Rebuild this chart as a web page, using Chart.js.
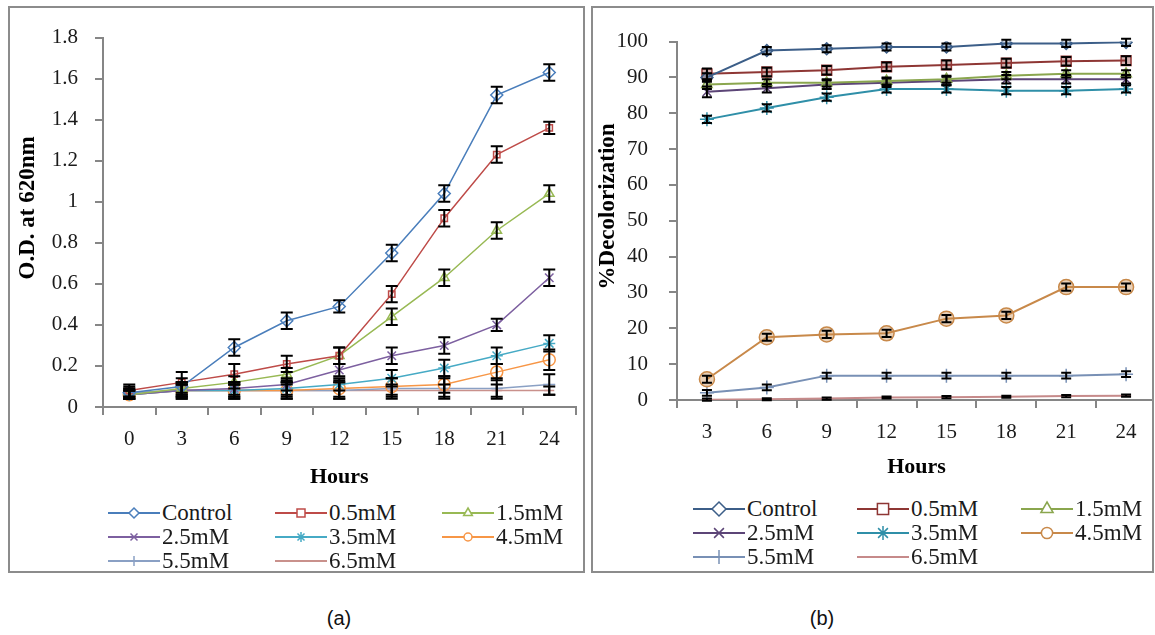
<!DOCTYPE html>
<html>
<head>
<meta charset="utf-8">
<script src="https://cdn.jsdelivr.net/npm/chart.js@4.4.1/dist/chart.umd.min.js"></script>
<style>
html, body { margin: 0; padding: 0; background: #fff; overflow: hidden; width: 1155px; height: 635px; }
.panel { position: absolute; top: 6px; height: 563px; border: 2px solid #8c8c8c; overflow: hidden; background: #fff; }
#panelA { left: 8px; width: 573px; }
#panelB { left: 591px; width: 559px; }
.panel > canvas { position: absolute; left: 0; top: 0; }
.legend { position: absolute; display: grid; font-family: 'Liberation Serif', 'Times New Roman', serif; font-size: 23px; line-height: 24px; color: #1a1a1a; }
.legend .item { display: flex; align-items: center; white-space: nowrap; height: 24px; }
.legend .item canvas { margin-right: 2px; }
#legendA { left: 98px; top: 493px; grid-template-columns: 167px 167px 167px; }
#legendB { left: 100px; top: 489px; grid-template-columns: 164px 164px 164px; }
.caption { position: absolute; top: 607px; font-family: 'Liberation Sans', Arial, sans-serif; font-size: 20px; color: #111; transform: translateX(-50%); }
</style>
</head>
<body>
<div class="panel" id="panelA">
    <canvas id="chartA" width="573" height="483" style="width:573px;height:483px"></canvas>
    <div class="legend" id="legendA"></div>
</div>
<div class="panel" id="panelB">
    <canvas id="chartB" width="572" height="483" style="width:572px;height:483px"></canvas>
    <div class="legend" id="legendB"></div>
</div>
<div class="caption" style="left:339px">(a)</div>
<div class="caption" style="left:822px">(b)</div>

<script>
// ---- data: panel (a) growth, O.D. at 620nm ----
const hoursA = ['0', '3', '6', '9', '12', '15', '18', '21', '24'];
const yTicksA = [0, 0.2, 0.4, 0.6, 0.8, 1, 1.2, 1.4, 1.6, 1.8];

const controlA = [0.07, 0.10, 0.29, 0.42, 0.49, 0.75, 1.04, 1.52, 1.63];
const mM05A    = [0.08, 0.12, 0.16, 0.21, 0.25, 0.55, 0.92, 1.23, 1.36];
const mM15A    = [0.06, 0.09, 0.12, 0.16, 0.25, 0.44, 0.63, 0.86, 1.04];
const mM25A    = [0.06, 0.08, 0.09, 0.11, 0.18, 0.25, 0.30, 0.40, 0.63];
const mM35A    = [0.06, 0.08, 0.08, 0.09, 0.11, 0.14, 0.19, 0.25, 0.31];
const mM45A    = [0.06, 0.08, 0.08, 0.08, 0.09, 0.10, 0.11, 0.17, 0.23];
const mM55A    = [0.07, 0.08, 0.08, 0.08, 0.08, 0.09, 0.09, 0.09, 0.11];
const mM65A    = [0.07, 0.08, 0.08, 0.08, 0.08, 0.08, 0.08, 0.08, 0.08];

const errControlA = [0.03, 0.04, 0.04, 0.04, 0.03, 0.04, 0.04, 0.04, 0.04];
const err05A      = [0.03, 0.05, 0.05, 0.04, 0.04, 0.04, 0.04, 0.04, 0.03];
const err15A      = [0.02, 0.03, 0.03, 0.03, 0.04, 0.04, 0.04, 0.04, 0.04];
const err25A      = [0.02, 0.03, 0.03, 0.03, 0.03, 0.04, 0.04, 0.03, 0.04];
const err35A      = [0.02, 0.03, 0.03, 0.03, 0.03, 0.04, 0.04, 0.04, 0.04];
const err45A      = [0.02, 0.03, 0.03, 0.03, 0.04, 0.04, 0.04, 0.04, 0.05];
const err55A      = [0.02, 0.04, 0.04, 0.04, 0.04, 0.05, 0.05, 0.05, 0.05];
const err65A      = [0.02, 0.04, 0.04, 0.04, 0.04, 0.03, 0.03, 0.03, 0.02];

// ---- data: panel (b) % decolorization ----
const hoursB = ['3', '6', '9', '12', '15', '18', '21', '24'];
const yTicksB = [0, 10, 20, 30, 40, 50, 60, 70, 80, 90, 100];

const controlB = [90, 97.5, 98, 98.5, 98.5, 99.5, 99.5, 99.8];
const mM05B    = [91, 91.5, 92, 93, 93.5, 94, 94.5, 94.7];
const mM15B    = [88, 88.5, 88.5, 89, 89.5, 90.5, 91, 91];
const mM25B    = [86, 87, 88, 88.5, 89, 89.5, 89.5, 89.5];
const mM35B    = [78.3, 81.5, 84.5, 86.8, 86.8, 86.3, 86.3, 86.8];
const mM45B    = [5.8, 17.5, 18.3, 18.6, 22.7, 23.6, 31.5, 31.5];
const mM55B    = [2, 3.5, 6.8, 6.8, 6.8, 6.8, 6.8, 7.2];
const mM65B    = [0.1, 0.2, 0.4, 0.7, 0.8, 0.9, 1.1, 1.2];

const errControlB = [1.2, 1, 1, 1, 1, 1, 1, 1];
const err05B      = [1.5, 1.2, 1.2, 1.2, 1.2, 1.2, 1.2, 1.2];
const err15B      = [1.2, 1, 1, 1, 1, 1, 1, 1];
const err25B      = [1.5, 1.2, 1.2, 1.2, 1.2, 1.2, 1.2, 1.2];
const err35B      = [1, 1, 1, 1, 1, 1, 1, 1];
const err45B      = [1, 1, 1, 1, 1, 1, 1, 1];
const err55B      = [0.8, 0.8, 0.8, 0.8, 0.8, 0.8, 0.8, 0.8];
const err65B      = [0.3, 0.3, 0.3, 0.3, 0.3, 0.3, 0.3, 0.3];

const seriesNames = ['Control', '0.5mM', '1.5mM', '2.5mM', '3.5mM', '4.5mM', '5.5mM', '6.5mM'];

// styles
const colorsA = ['#4A7EBB', '#BE4B48', '#98B954', '#7D60A0', '#46AAC5', '#F79646', '#8AA0C4', '#C9918C'];
const colorsB = ['#3C5E88', '#8E3634', '#8AA64E', '#5C4577', '#2F8FA8', '#C8894A', '#7890B5', '#C68A8A'];
const markerStyles = ['rectRot', 'rect', 'triangle', 'crossRot', 'star', 'circle', 'cross', 'line'];
const radiiA = [6, 4.5, 5.5, 6, 6, 6, 6, 5];
const radiiB = [6, 7, 6, 6, 7, 7.5, 7, 5];

const FONT = "'Liberation Serif', 'Times New Roman', serif";

const errorBarPlugin = {
    id: 'errorBars',
    afterDatasetsDraw(chart, args, opts) {
        const ctx = chart.ctx;
        const y = chart.scales.y;
        ctx.save();
        ctx.strokeStyle = '#000';
        ctx.lineWidth = opts.width;
        chart.data.datasets.forEach((ds, i) => {
            if (!ds.errors) return;
            chart.getDatasetMeta(i).data.forEach((pt, j) => {
                const v = ds.data[j];
                const e = ds.errors[j];
                const yTop = y.getPixelForValue(v + e);
                const yBot = y.getPixelForValue(v - e);
                ctx.beginPath();
                ctx.moveTo(pt.x, yTop);
                ctx.lineTo(pt.x, yBot);
                ctx.moveTo(pt.x - opts.cap, yTop);
                ctx.lineTo(pt.x + opts.cap, yTop);
                ctx.moveTo(pt.x - opts.cap, yBot);
                ctx.lineTo(pt.x + opts.cap, yBot);
                ctx.stroke();
            });
        });
        ctx.restore();
    }
};

function buildDatasets(values, errors, colors, radii, lineWidth, fillAlpha) {
    return values.map((data, i) => ({
        label: seriesNames[i],
        data: data,
        errors: errors[i],
        borderColor: colors[i],
        borderWidth: lineWidth,
        pointStyle: markerStyles[i],
        pointRadius: radii[i],
        pointBorderColor: colors[i],
        pointBorderWidth: 1.5,
        pointBackgroundColor: fillAlpha ? colors[i] + fillAlpha : 'rgba(255,255,255,0)',
        tension: 0,
        fill: false
    }));
}

function axisX(labels, titlePadBottom) {
    return {
        type: 'category',
        labels: labels,
        offset: true,
        grid: { offset: true, drawOnChartArea: false, drawTicks: true, tickLength: 8, color: '#868686', lineWidth: 2 },
        border: { display: true, color: '#868686', width: 2 },
        ticks: { color: '#1a1a1a', font: { family: FONT, size: 21 }, padding: 12, maxRotation: 0, autoSkip: false },
        title: { display: true, text: 'Hours', color: '#000', font: { family: FONT, size: 22, weight: 'bold' }, padding: { top: 0, bottom: titlePadBottom } }
    };
}

function axisY(tickValues, title, titlePadTop, tickPad, width) {
    return {
        min: tickValues[0],
        max: tickValues[tickValues.length - 1],
        afterBuildTicks: s => { s.ticks = tickValues.map(v => ({ value: v })); },
        afterFit: s => { s.width = width; },
        grid: { drawOnChartArea: false, drawTicks: true, tickLength: 8, color: '#868686', lineWidth: 2 },
        border: { display: true, color: '#868686', width: 2 },
        ticks: { color: '#1a1a1a', font: { family: FONT, size: 21 }, padding: tickPad, autoSkip: false, callback: v => String(v) },
        title: { display: true, text: title, color: '#000', font: { family: FONT, size: 23, weight: 'bold' }, padding: { top: titlePadTop, bottom: 0 } }
    };
}

// leading spaces push the rotated title up a little, as in the figure
const chartA = new Chart(document.getElementById('chartA'), {
    type: 'line',
    data: {
        labels: hoursA,
        datasets: buildDatasets(
            [controlA, mM05A, mM15A, mM25A, mM35A, mM45A, mM55A, mM65A],
            [errControlA, err05A, err15A, err25A, err35A, err45A, err55A, err65A],
            colorsA, radiiA, 1.5, null)
    },
    options: {
        responsive: false,
        animation: false,
        devicePixelRatio: 1,
        layout: { padding: { left: 0, top: 17, right: 2, bottom: 0 } },
        plugins: {
            legend: { display: false },
            tooltip: { enabled: false },
            errorBars: { cap: 6, width: 2 }
        },
        scales: {
            x: Object.assign(axisX(hoursA, 0), { afterFit: s => { s.height = 84; } }),
            y: axisY(yTicksA, '\u00a0\u00a0\u00a0\u00a0\u00a0O.D. at 620nm', 4, 17, 93)
        }
    },
    plugins: [errorBarPlugin]
});

const chartB = new Chart(document.getElementById('chartB'), {
    type: 'line',
    data: {
        labels: hoursB,
        datasets: buildDatasets(
            [controlB, mM05B, mM15B, mM25B, mM35B, mM45B, mM55B, mM65B],
            [errControlB, err05B, err15B, err25B, err35B, err45B, err55B, err65B],
            colorsB, radiiB, 2, '66')
    },
    options: {
        responsive: false,
        animation: false,
        devicePixelRatio: 1,
        layout: { padding: { left: 0, top: 12, right: 2, bottom: 0 } },
        plugins: {
            legend: { display: false },
            tooltip: { enabled: false },
            errorBars: { cap: 5, width: 2 }
        },
        scales: {
            x: Object.assign(axisX(hoursB, 10), { afterFit: s => { s.height = 91; } }),
            y: axisY(yTicksB, '\u00a0\u00a0\u00a0\u00a0\u00a0%Decolorization', 1, 21, 84)
        }
    },
    plugins: [errorBarPlugin]
});

function drawMarker(ctx, style, x, y, r) {
    ctx.beginPath();
    if (style === 'rectRot') {
        ctx.moveTo(x, y - r); ctx.lineTo(x + r, y); ctx.lineTo(x, y + r); ctx.lineTo(x - r, y); ctx.closePath();
    } else if (style === 'rect') {
        const h = r * 0.8;
        ctx.rect(x - h, y - h, 2 * h, 2 * h);
    } else if (style === 'triangle') {
        ctx.moveTo(x, y - r); ctx.lineTo(x + r * 0.87, y + r * 0.5); ctx.lineTo(x - r * 0.87, y + r * 0.5); ctx.closePath();
    } else if (style === 'circle') {
        ctx.arc(x, y, r * 0.8, 0, Math.PI * 2);
    } else if (style === 'crossRot') {
        const d = r * 0.7;
        ctx.moveTo(x - d, y - d); ctx.lineTo(x + d, y + d); ctx.moveTo(x + d, y - d); ctx.lineTo(x - d, y + d);
    } else if (style === 'star') {
        const d = r * 0.7;
        ctx.moveTo(x - d, y - d); ctx.lineTo(x + d, y + d); ctx.moveTo(x + d, y - d); ctx.lineTo(x - d, y + d);
        ctx.moveTo(x, y - r); ctx.lineTo(x, y + r);
    } else if (style === 'cross') {
        ctx.moveTo(x, y - r); ctx.lineTo(x, y + r);
    } else if (style === 'line') {
        ctx.moveTo(x - r * 0.6, y); ctx.lineTo(x + r * 0.6, y);
    }
    if (['rectRot', 'rect', 'triangle', 'circle'].includes(style)) {
        ctx.fillStyle = '#fff';
        ctx.fill();
    }
    ctx.stroke();
}

function buildLegend(id, colors, radius) {
    const box = document.getElementById(id);
    seriesNames.forEach((name, i) => {
        const item = document.createElement('div');
        item.className = 'item';
        const c = document.createElement('canvas');
        c.width = 52; c.height = 20;
        const ctx = c.getContext('2d');
        ctx.strokeStyle = colors[i];
        ctx.lineWidth = 2;
        ctx.beginPath(); ctx.moveTo(0, 10); ctx.lineTo(52, 10); ctx.stroke();
        ctx.lineWidth = 1.5;
        drawMarker(ctx, markerStyles[i], 26, 10, radius);
        item.appendChild(c);
        const span = document.createElement('span');
        span.textContent = name;
        item.appendChild(span);
        box.appendChild(item);
    });
}

buildLegend('legendA', colorsA, 5);
buildLegend('legendB', colorsB, 7);
</script>
</body>
</html>
